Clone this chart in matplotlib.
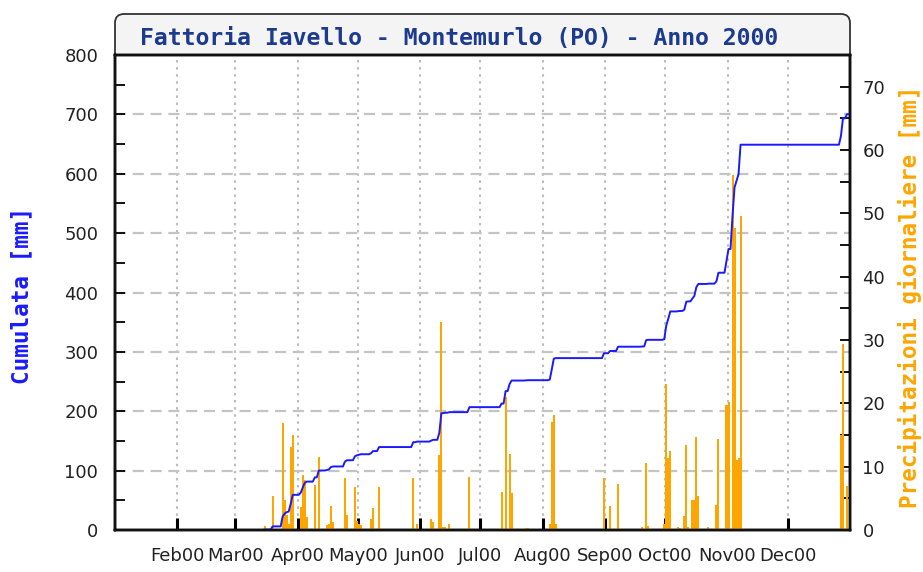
import numpy as np
import matplotlib
matplotlib.use("Agg")
import matplotlib.pyplot as plt
from matplotlib.patches import FancyBboxPatch
from matplotlib.ticker import MultipleLocator, FixedLocator
from matplotlib.transforms import IdentityTransform

# ---- data -------------------------------------------------------------
title = "Fattoria Iavello - Montemurlo (PO) - Anno 2000"
left_label = "Cumulata [mm]"
right_label = "Precipitazioni giornaliere [mm]"

month_labels = ["Feb00", "Mar00", "Apr00", "May00", "Jun00", "Jul00",
                "Aug00", "Sep00", "Oct00", "Nov00", "Dec00"]
month_starts = [31, 60, 91, 121, 152, 182, 213, 244, 274, 305, 335]  # day of year (0 = 1 Jan)

# rainy days (day of year, 0 = 1 Jan) and daily rainfall in mm
rain_day = [74, 78, 83, 84, 85, 86, 87, 88, 92, 93, 94, 95, 99, 101,
            105, 106, 107, 108, 114, 115, 119, 120, 121, 122, 127, 128, 131,
            148, 150, 157, 158, 161, 162, 163, 164, 166, 176,
            192, 194, 196, 197, 204, 205,
            216, 217, 218, 219,
            243, 246, 250, 262, 264, 265,
            273, 274, 275, 276, 280, 281, 283, 284, 285, 287, 288, 289, 290,
            295, 299, 300,
            304, 305, 307, 308, 309, 310, 311,
            361, 362, 364]
rain_mm = [0.7, 5.4, 16.9, 4.7, 2.4, 1.0, 13.1, 15.0, 3.7, 8.7, 7.9, 2.0, 7.1, 11.6,
           0.8, 1.0, 3.8, 1.2, 8.2, 2.3, 6.8, 1.5, 1.0, 0.8, 1.8, 3.5, 6.8,
           8.2, 1.0, 1.7, 1.3, 11.8, 32.8, 0.5, 0.5, 1.0, 8.4,
           6.0, 21.0, 12.0, 5.8, 0.3, 0.3,
           1.0, 17.1, 18.1, 1.0,
           8.2, 3.8, 7.2, 0.4, 10.6, 0.6,
           0.9, 23.1, 11.3, 12.5, 0.5, 0.3, 2.2, 13.5, 0.4, 4.7, 4.7, 14.7, 5.3,
           0.5, 4.0, 14.4,
           19.7, 20.2, 56.1, 47.7, 11.0, 11.3, 49.6,
           15.0, 29.4, 7.0]

n_days = 366
daily = np.zeros(n_days)
daily[rain_day] = rain_mm
cumulative = np.cumsum(daily)
x = np.arange(n_days) + 0.5

# ---- figure layout (pixels) --------------------------------------------
W, H = 923, 572
L, R, B, T = 115, 850, 530, 55
fig = plt.figure(figsize=(W / 100, H / 100), dpi=100, facecolor="white")

# title banner with rounded top corners
banner = FancyBboxPatch((L, H - 75), R - L, 61,
                        boxstyle="round,pad=0,rounding_size=9",
                        transform=IdentityTransform(), facecolor="#f4f4f4",
                        edgecolor="#333333", linewidth=1.3, zorder=-5)
fig.patches.append(banner)
fig.text(140 / W, 1 - 38 / H, title, ha="left", va="center",
         family="DejaVu Sans Mono", weight="bold", fontsize=16.7, color="#1c3a8e")

pos = [L / W, 1 - B / H, (R - L) / W, (B - T) / H]
ax = fig.add_axes(pos)          # left scale, grid
ax_bar = ax.twinx()             # right scale, daily bars
ax_line = ax.twinx()            # cumulative line on top

for a in (ax, ax_bar, ax_line):
    a.set_xlim(0, n_days)
    for s in a.spines.values():
        s.set_linewidth(1.7)
        s.set_color("#111111")

ax.set_ylim(0, 800)
ax_line.set_ylim(0, 800)
ax_bar.set_ylim(0, 75)

# grid
for m in month_starts:
    ax.axvline(m, color="#bdbdbd", lw=1.5, ls=(0, (1.2, 2.2)), zorder=0)
for v in range(100, 800, 100):
    ax.axhline(v, color="#c4c4c4", lw=1.6, ls=(0, (5, 3)), zorder=0)

# bars and line (spines stay above the line so the zero stretch is hidden)
ax_bar.bar(x, daily, width=1.0, color="#ffa500", edgecolor="none",
           antialiased=False, zorder=2)
ax_line.plot(x, cumulative, color="#1a1aff", lw=1.4, zorder=2)

# ticks
ax.yaxis.set_major_locator(MultipleLocator(100))
ax.yaxis.set_minor_locator(MultipleLocator(50))
ax.tick_params(axis="y", which="both", direction="in", length=7, width=1.3,
               pad=12, labelsize=13, labelcolor="#222222")
ax.xaxis.set_major_locator(FixedLocator(month_starts))
ax.set_xticklabels(month_labels)
ax.tick_params(axis="x", direction="in", length=9, width=2.2, pad=12,
               labelsize=13, labelcolor="#222222")

ax_bar.yaxis.set_major_locator(MultipleLocator(10))
ax_bar.yaxis.set_minor_locator(MultipleLocator(5))
ax_bar.tick_params(axis="y", which="both", direction="in", length=7, width=1.3,
                   pad=9, labelsize=13, labelcolor="#222222")
ax_bar.tick_params(axis="x", bottom=False, labelbottom=False)

ax_line.tick_params(axis="both", which="both", left=False, right=False,
                    bottom=False, labelleft=False, labelright=False,
                    labelbottom=False)

for t in ax.get_xticklabels() + ax.get_yticklabels() + ax_bar.get_yticklabels():
    t.set_family("DejaVu Sans")

# axis titles
fig.text(22 / W, 1 - 295 / H, left_label, rotation=90, ha="center", va="center",
         family="DejaVu Sans Mono", weight="bold", fontsize=16.3, color="#1a1aff")
fig.text(910 / W, 1 - 297 / H, right_label, rotation=90, ha="center", va="center",
         family="DejaVu Sans Mono", weight="bold", fontsize=16.3, color="#ffa500")

fig.savefig("out.png", dpi=100)
